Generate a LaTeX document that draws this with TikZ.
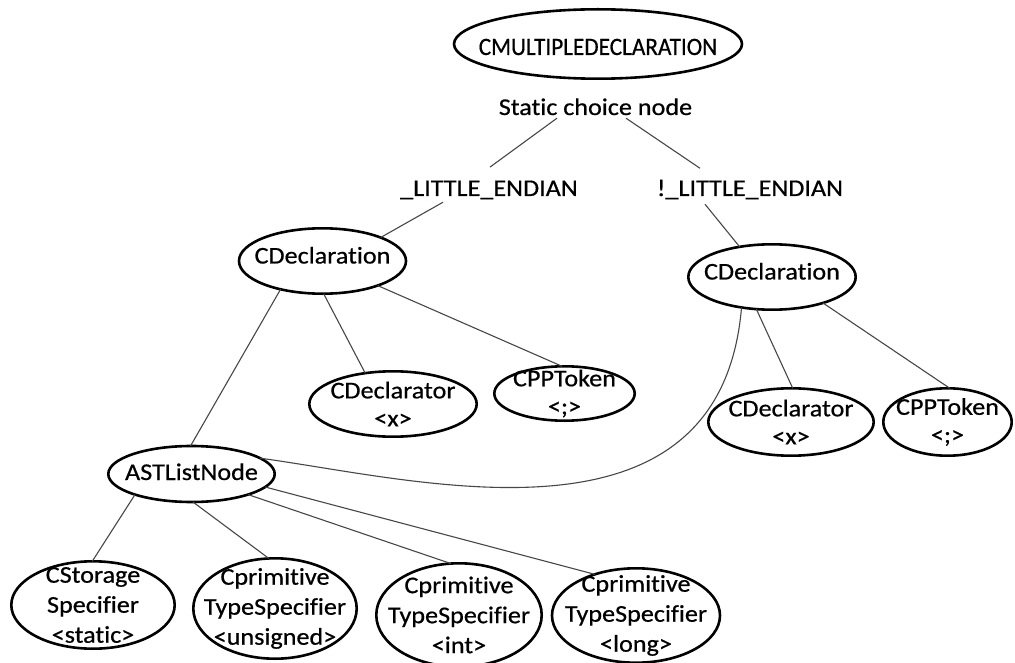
\documentclass[tikz,border=0pt]{standalone}
\usepackage{fontspec}
\setmainfont{Carlito}[FakeStretch=1.09, FakeBold=0.6, Ligatures=NoCommon]
\newfontfamily\titlefont{Carlito}[FakeStretch=0.93, FakeBold=0.6, Ligatures=NoCommon]
\usetikzlibrary{shapes.geometric}
\begin{document}
\begin{tikzpicture}[x=1pt,y=-1pt,
  every node/.style={inner sep=0pt, outer sep=0pt},
  tnode/.style={draw=black, line width=2.6pt, fill=white, ellipse, inner sep=-60pt,
    align=center, font=\fontsize{24}{28}\selectfont},
  tall/.style={font=\fontsize{24}{30}\selectfont},
  oneline/.style={text height=16pt, text depth=11pt},
  lbl/.style={font=\fontsize{24}{28}\selectfont, anchor=base},
  edge/.style={draw=black!72, line width=1.1pt},
]
\fill[white] (0,0) rectangle (1015,663);
\useasboundingbox (0,0) rectangle (1015,663);

% root and the static choice between the two declarations
\node[tnode, minimum width=288pt, minimum height=69.4pt,
  font=\titlefont\fontsize{25}{30}\selectfont, text height=22pt, text depth=0pt]
  (top) at (598,44) {CMULTIPLEDECLARATION};
\node[lbl] (static) at (595.5,115) {Static choice node};
\node[lbl] (le) at (489,196) {\_LITTLE\_ENDIAN};
\node[lbl] (nle) at (750,196) {!\_LITTLE\_ENDIAN};

% declarations
\node[tnode, oneline, minimum width=167pt, minimum height=65.4pt] (cdl) at (322.5,261) {CDeclaration};
\node[tnode, oneline, minimum width=167.4pt, minimum height=65.4pt] (cdr) at (772,277) {CDeclaration};
\node[tnode, minimum width=167.4pt, minimum height=65.4pt] (dtl) at (393,404) {CDeclarator\\<x>};
\node[tnode, minimum width=140.4pt, minimum height=54.4pt] (tkl) at (564.5,393.5) {CPPToken\\<;>};
\node[tnode, minimum width=165.4pt, minimum height=67.4pt] (dtr) at (791,422) {CDeclarator\\<x>};
\node[tnode, minimum width=128.4pt, minimum height=67.4pt] (tkr) at (947.5,422) {CPPToken\\<;>};

% shared specifier list
\node[tnode, text height=16pt, text depth=4pt, minimum width=166.4pt, minimum height=56pt]
  (ast) at (191.5,474) {ASTListNode};
\node[tnode, tall, minimum width=163.4pt, minimum height=87.4pt] (cst) at (93,605)
  {CStorage\\Specifier\\<static>};
\node[tnode, tall, minimum width=163.4pt, minimum height=100.4pt] (uns) at (275,608.5)
  {Cprimitive\\TypeSpecifier\\<unsigned>};
\node[tnode, tall, minimum width=165.4pt, minimum height=103.4pt] (int) at (459,615)
  {Cprimitive\\TypeSpecifier\\<int>};
\node[tnode, tall, minimum width=168pt, minimum height=94.4pt] (lng) at (636,615.5)
  {Cprimitive\\TypeSpecifier\\<long>};

% connectors
\draw[edge] ([xshift=-38.5pt,yshift=-3pt]static.south) -- ([xshift=1pt,yshift=13.5pt]le.north);
\draw[edge] ([xshift=-46pt,yshift=-3pt]le.south) -- (cdl.22);
\draw[edge] ([xshift=30.5pt,yshift=-3pt]static.south) -- ([xshift=-50pt,yshift=11.5pt]nle.north);
\draw[edge] ([xshift=-45pt,yshift=-5pt]nle.south) -- (cdr.137);
\draw[edge] (cdl.-146) -- (ast.92);
\draw[edge] (cdl.-88) -- (dtl.132);
\draw[edge] (cdl.-24) -- (tkl.95);
\draw[edge] (cdr.-116) -- (dtr.87);
\draw[edge] (cdr.-27.5) -- (tkr.86);
\draw[edge] (cdr.-135) .. controls (720,560) and (420,480) .. (ast.13);
\draw[edge] (ast.-160) -- (cst.91);
\draw[edge] (ast.-87) -- (uns.97.5);
\draw[edge] (ast.-20.5) -- (int.99.8);
\draw[edge] (ast.-10) -- (lng.135);
\end{tikzpicture}
\end{document}
